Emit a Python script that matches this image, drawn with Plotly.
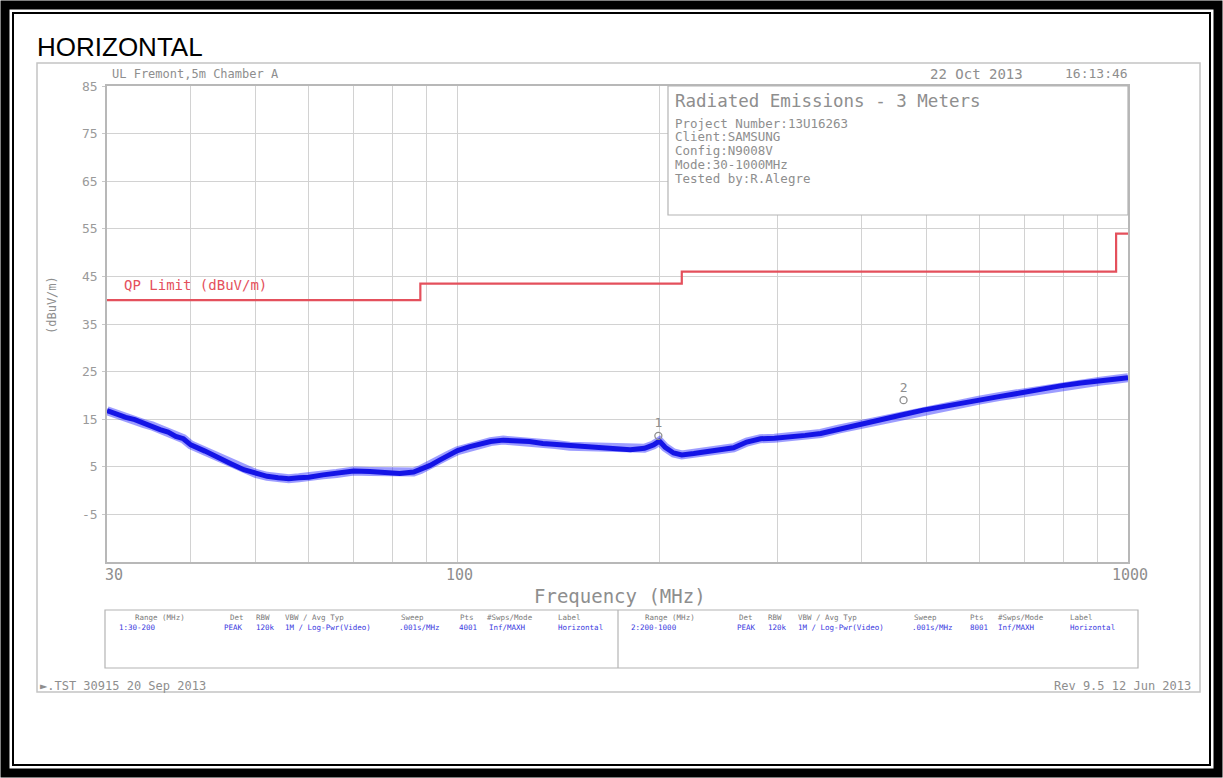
import math
import plotly.graph_objects as go

# ---------------- data ----------------
trace_freq = [30, 31, 32, 33, 34, 35, 36, 37, 38, 39, 40, 42, 44, 46, 48, 50, 52, 54, 56, 58,
              60, 63, 66, 70, 74, 78, 82, 86, 88, 91, 94, 97, 100, 104, 108, 112, 117, 122,
              128, 134, 140, 147, 155, 163, 172, 181, 190, 196, 200, 204, 210, 216, 225, 235,
              245, 258, 270, 283, 297, 313, 330, 348, 370, 399, 430, 463, 495, 525, 560, 600,
              645, 690, 740, 793, 850, 910, 960, 1000]
trace_level = [16.8, 16.0, 15.4, 14.9, 14.1, 13.6, 12.8, 12.3, 11.4, 10.9, 9.6, 8.3, 6.8, 5.6,
               4.4, 3.6, 3.0, 2.7, 2.5, 2.7, 2.8, 3.3, 3.6, 4.1, 4.0, 3.9, 3.6, 3.9, 4.4, 5.3,
               6.4, 7.5, 8.4, 9.2, 9.9, 10.3, 10.6, 10.5, 10.3, 9.9, 9.7, 9.3, 9.2, 8.9, 8.8,
               8.6, 8.9, 9.6, 10.4, 9.1, 7.9, 7.5, 7.8, 8.1, 8.6, 9.0, 10.2, 10.9, 11.0, 11.2,
               11.6, 12.0, 12.9, 13.9, 15.0, 16.0, 16.9, 17.6, 18.3, 19.0, 19.8, 20.5, 21.3,
               22.0, 22.6, 23.0, 23.4, 23.7]

limit_freq = [30, 88, 216, 960, 1000]
limit_level = [40, 43.5, 46, 54, 54]

marker_freq = [199.3, 462.6]
marker_level = [11.5, 19.0]
marker_labels = ["1", "2"]

y_ticks = [85, 75, 65, 55, 45, 35, 25, 15, 5, -5]
x_grid = [30, 40, 50, 60, 70, 80, 90, 100, 200, 300, 400, 500, 600, 700, 800, 900, 1000]
x_labels = ["30", "100", "1000"]
x_label_vals = [30, 100, 1000]

info_lines = ["Project Number:13U16263", "Client:SAMSUNG", "Config:N9008V",
              "Mode:30-1000MHz", "Tested by:R.Alegre"]

table_headers = ["Range (MHz)", "Det", "RBW", "VBW / Avg Typ", "Sweep", "Pts",
                 "#Swps/Mode", "Label"]
table_left_vals = ["1:30-200", "PEAK", "120k", "1M / Log-Pwr(Video)", ".001s/MHz",
                   "4001", "Inf/MAXH", "Horizontal"]
table_right_vals = ["2:200-1000", "PEAK", "120k", "1M / Log-Pwr(Video)", ".001s/MHz",
                    "8001", "Inf/MAXH", "Horizontal"]

# ---------------- layout helpers ----------------
W, H = 1223, 778
def px(x):
    return x / W
def py(y):
    return 1 - y / H

MONO = "DejaVu Sans Mono"
GRAY = "#8e8e8e"
BLUE = "#1414e6"
RED = "#e4505c"
TBLUE = "#3a3ae0"

fig = go.Figure()

fig.add_trace(go.Scatter(x=limit_freq, y=limit_level, mode="lines", line_shape="hv",
                         line=dict(color=RED, width=2.2), hoverinfo="skip", showlegend=False))
fig.add_trace(go.Scatter(x=trace_freq, y=trace_level, mode="lines", opacity=0.45,
                         line=dict(color="#2828ff", width=9), hoverinfo="skip", showlegend=False))
fig.add_trace(go.Scatter(x=trace_freq, y=trace_level, mode="lines",
                         line=dict(color=BLUE, width=5), hoverinfo="skip", showlegend=False))
fig.add_trace(go.Scatter(x=marker_freq, y=marker_level, mode="markers+text",
                         text=marker_labels, textposition="top center",
                         textfont=dict(family=MONO, size=13, color=GRAY),
                         marker=dict(symbol="circle-open", size=7, color=GRAY, line=dict(width=1.3)),
                         hoverinfo="skip", showlegend=False))

shapes = []
# outer document frame
shapes.append(dict(type="rect", xref="paper", yref="paper", x0=px(5), x1=px(1218), y0=py(773), y1=py(5),
                   line=dict(color="black", width=9)))
shapes.append(dict(type="rect", xref="paper", yref="paper", x0=px(13), x1=px(1210), y0=py(765), y1=py(13),
                   line=dict(color="black", width=2)))
# embedded image border
shapes.append(dict(type="rect", xref="paper", yref="paper", x0=px(37), x1=px(1200), y0=py(692), y1=py(63),
                   line=dict(color="#c4c4c4", width=1.5)))
# info box
shapes.append(dict(type="rect", xref="paper", yref="paper", x0=px(668), x1=px(1128), y0=py(215), y1=py(86),
                   line=dict(color="#b4b4b4", width=1.2), fillcolor="white", layer="above"))
# table boxes
shapes.append(dict(type="rect", xref="paper", yref="paper", x0=px(105), x1=px(1138), y0=py(668), y1=py(610),
                   line=dict(color="#b4b4b4", width=1.2)))
shapes.append(dict(type="line", xref="paper", yref="paper", x0=px(618), x1=px(618), y0=py(668), y1=py(610),
                   line=dict(color="#b4b4b4", width=1.2)))

ann = []
def text(x, y, s, size, color=GRAY, xanchor="left", family=MONO, yanchor="middle", **kw):
    ann.append(dict(x=px(x), y=py(y), xref="paper", yref="paper", text=s, showarrow=False,
                    xanchor=xanchor, yanchor=yanchor, font=dict(family=family, size=size, color=color), **kw))

text(35, 47, "HORIZONTAL", 26, color="black", family="Liberation Sans")
text(110, 74, "UL Fremont,5m Chamber A", 12)
text(928, 74, "22 Oct 2013", 14)
text(1063, 74, "16:13:46", 13)
text(673, 101, "Radiated Emissions - 3 Meters", 17.5)
for i, line in enumerate(info_lines):
    text(673, 123 + i * 13.8, line, 12.5)
text(122, 285, "QP Limit (dBuV/m)", 14, color=RED)
text(52, 305, "(dBuV/m)", 12, xanchor="center", textangle=-90)
for v, s in zip(x_label_vals, x_labels):
    xx = 107 + (math.log10(v) - math.log10(30)) * (1128 - 107) / (3 - math.log10(30))
    text(xx + (7 if v == 30 else 2), 575, s, 15, xanchor="center")
text(620, 596, "Frequency (MHz)", 19, xanchor="center")
text(38, 686, "\u25ba.TST 30915 20 Sep 2013", 12)
text(1193, 686, "Rev 9.5 12 Jun 2013", 12, xanchor="right")

hdr_left_x = [133, 228, 254, 283, 399, 458, 485, 556]
val_left_x = [117, 222, 254, 283, 397, 457, 487, 556]
hdr_right_x = [643, 737, 766, 796, 912, 968, 996, 1068]
val_right_x = [629, 735, 766, 796, 910, 968, 996, 1068]
for h, xl, xr in zip(table_headers, hdr_left_x, hdr_right_x):
    text(xl, 617, h, 7.5, color="#7a7a7a")
    text(xr, 617, h, 7.5, color="#7a7a7a")
for v, xl in zip(table_left_vals, val_left_x):
    text(xl, 627, v, 7.5, color=TBLUE)
for v, xr in zip(table_right_vals, val_right_x):
    text(xr, 627, v, 7.5, color=TBLUE)

fig.update_layout(
    width=W, height=H, autosize=False,
    margin=dict(l=0, r=0, t=0, b=0),
    paper_bgcolor="white", plot_bgcolor="white",
    shapes=shapes, annotations=ann,
    xaxis=dict(type="log", domain=[px(107), px(1128)],
               range=[math.log10(30), 3], tickvals=x_grid, showticklabels=False,
               showgrid=True, gridcolor="#d2d2d2", gridwidth=1,
               showline=True, linecolor="#b8b8b8", linewidth=1.5, mirror=True,
               zeroline=False, ticks="", automargin=False),
    yaxis=dict(domain=[py(562), py(86)], range=[-15, 85],
               tickvals=y_ticks, ticktext=[str(v) for v in y_ticks],
               tickfont=dict(family=MONO, size=13, color="#9a9a9a"),
               showgrid=True, gridcolor="#d2d2d2", gridwidth=1,
               showline=True, linecolor="#b8b8b8", linewidth=1.5, mirror=True,
               zeroline=False, ticks="outside", ticklen=3, tickcolor="#c8c8c8",
               ticklabelstandoff=2, automargin=False),
)

fig.write_html("out.html", config={"displayModeBar": False},
               post_script="document.body.style.margin='0';document.body.style.overflow='hidden';")
